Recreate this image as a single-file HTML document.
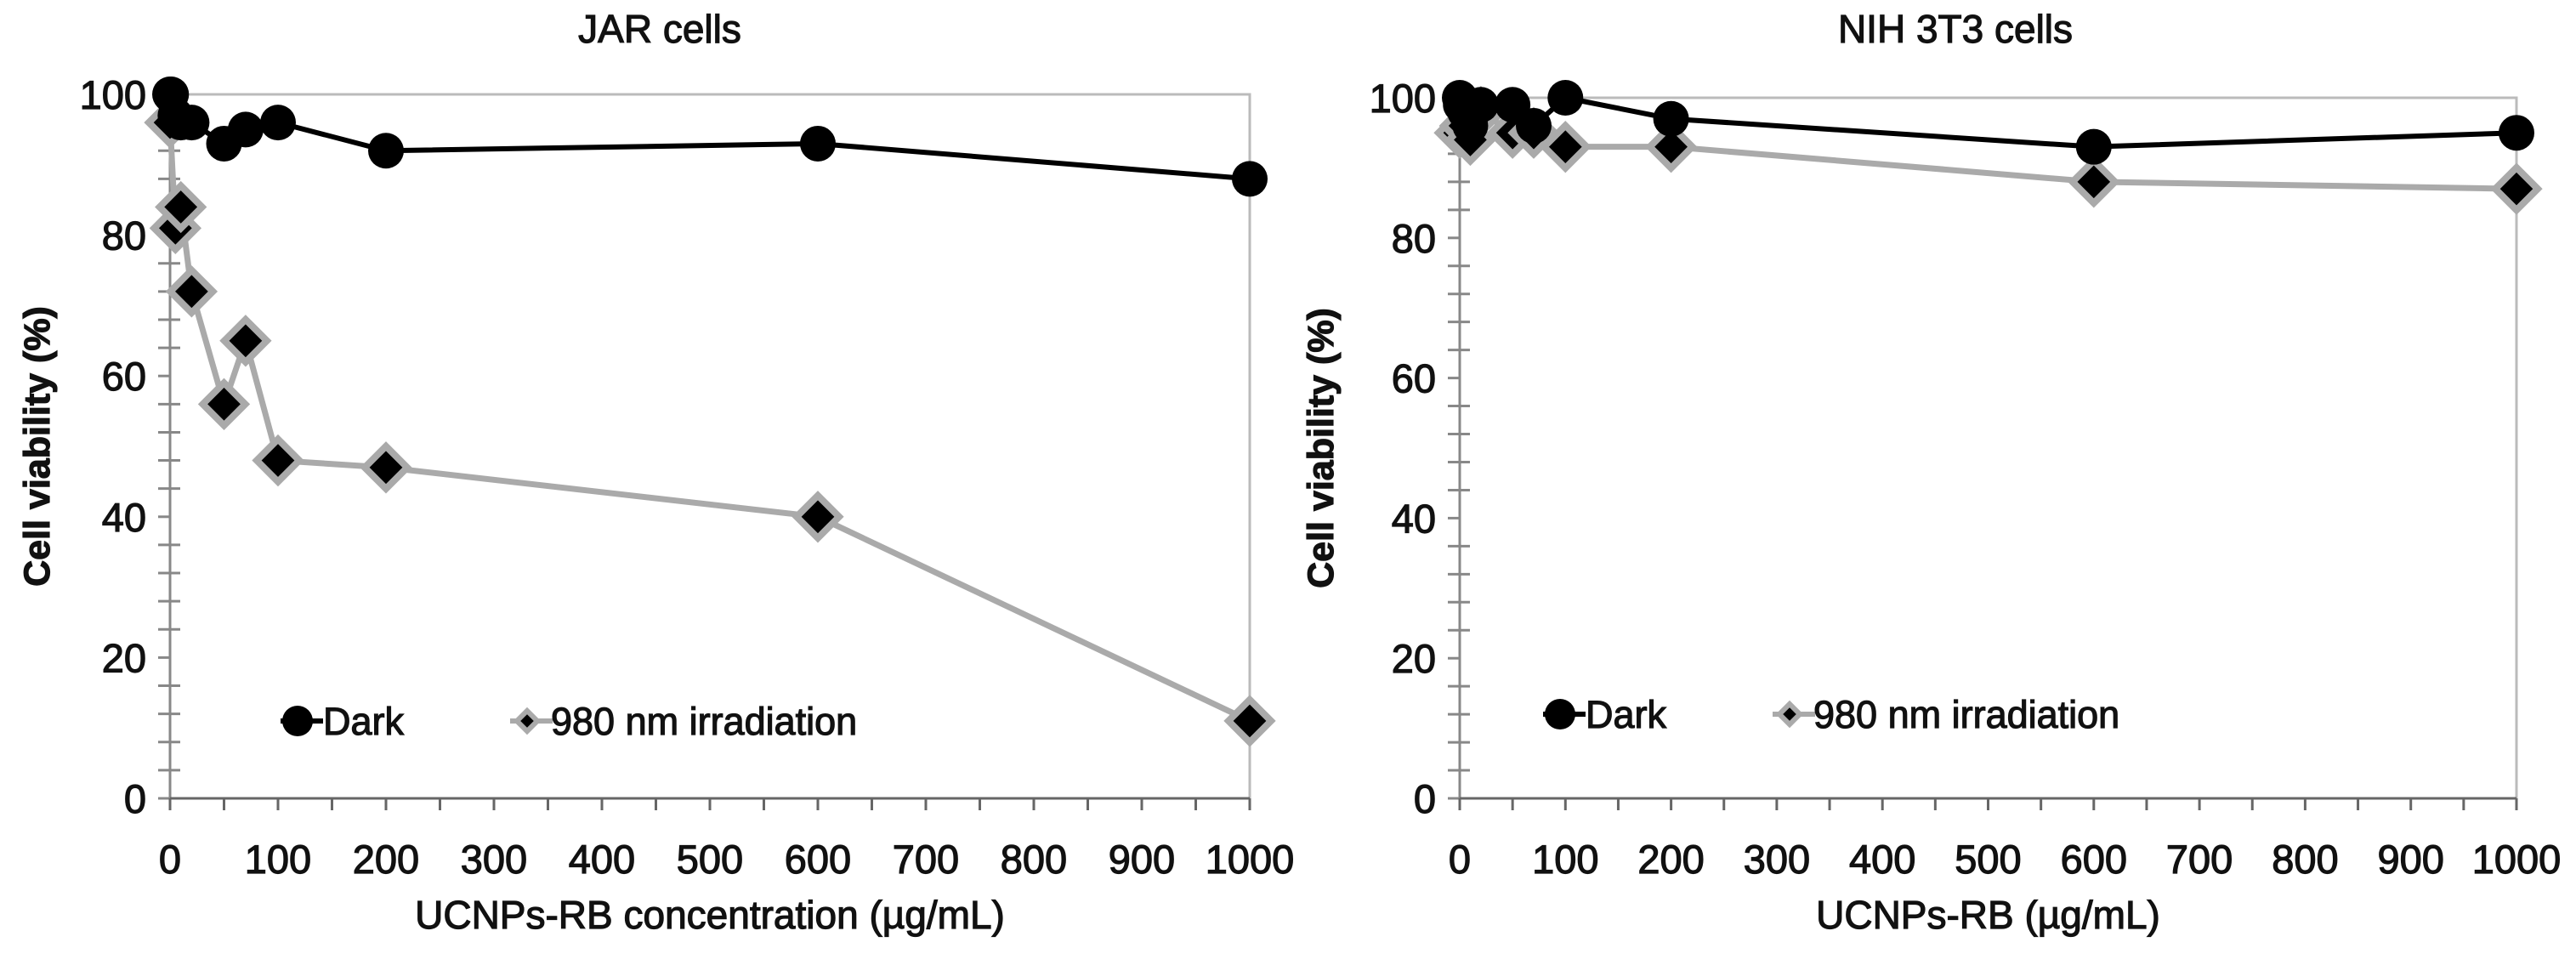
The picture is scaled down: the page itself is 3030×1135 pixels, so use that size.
<!DOCTYPE html>
<html><head><meta charset="utf-8"><style>
html,body{margin:0;padding:0;background:#fff}
svg{display:block}
text{font-family:"Liberation Sans",sans-serif;fill:#111;stroke:#111;stroke-width:1.2}
</style></head><body>
<svg id="fig" width="3030" height="1135" viewBox="0 0 3030 1135" xmlns="http://www.w3.org/2000/svg"></svg>
<script>
const xTicks=[0,100,200,300,400,500,600,700,800,900,1000];
const yTicks=[0,20,40,60,80,100];
const jarX=[0,1,5,10,20,50,70,100,200,600,1000];
const jarDark=[100,100,97,96,96,93,95,96,92,93,88];
const jarIrrX=[0,5,10,20,50,70,100,200,600,1000];
const jarIrr=[96,81,84,72,56,65,48,47,40,11];
const nihX=[0,1,5,10,20,50,70,100,200,600,1000];
const nihDark=[100,99,98,96,99,99,96,100,97,93,95];
const nihIrrX=[0,5,10,20,50,70,100,200,600,1000];
const nihIrr=[95,96,94,98,95,95,93,93,88,87];

const NS='http://www.w3.org/2000/svg';
const svg=document.getElementById('fig');
function mk(tag,attrs,parent){const e=document.createElementNS(NS,tag);for(const k in attrs)e.setAttribute(k,attrs[k]);(parent||svg).appendChild(e);return e;}

function panel(cfg){
  const g=mk('g',{});
  
  
  const sx=v=>cfg.x0+(cfg.x1-cfg.x0)*v/1000;
  const sy=v=>cfg.y0+(cfg.y1-cfg.y0)*v/100;
  const fr=mk('path',{d:`M${sx(0)},${sy(100)}H${sx(1000)}V${sy(0)}`,fill:'none',stroke:'#bbb','stroke-width':3},g);
  
  
  const ya=mk('line',{x1:sx(0),y1:sy(0),x2:sx(0),y2:sy(100),stroke:'#888','stroke-width':3},g);
  
  
  for(let v=0;v<=100;v+=4){mk('line',{x1:sx(0)-14,y1:sy(v),x2:sx(0)+(v%20===0?0:12),y2:sy(v),stroke:'#888','stroke-width':3},g);}
  yTicks.forEach(v=>{const t=mk('text',{x:sx(0)-28,y:sy(v)+17,'text-anchor':'end','font-size':47},g);t.textContent=v;
    
    });
  const xa=mk('line',{x1:sx(0),y1:sy(0),x2:sx(1000),y2:sy(0),stroke:'#666','stroke-width':3},g);
  
  
  for(let v=0;v<=1000;v+=50){mk('line',{x1:sx(v),y1:sy(0),x2:sx(v),y2:sy(0)+14,stroke:'#666','stroke-width':3},g);}
  xTicks.forEach(v=>{const t=mk('text',{x:sx(v),y:sy(0)+88,'text-anchor':'middle','font-size':47},g);t.textContent=v;
    
    });
  const ti=mk('text',{x:cfg.tx,y:50,'text-anchor':'middle','font-size':46},g);ti.textContent=cfg.title;
  
  
  const xl=mk('text',{x:(sx(0)+sx(1000))/2,y:1092,'text-anchor':'middle','font-size':46},g);xl.textContent=cfg.xlabel;
  
  
  const yl=mk('text',{x:0,y:0,'text-anchor':'middle','font-size':43,'font-weight':'bold',transform:`translate(${cfg.ylx},${(sy(0)+sy(100))/2}) rotate(-90)`},g);yl.textContent='Cell viability  (%)';
  
  
  const ip=cfg.irrX.map((x,i)=>sx(x)+','+sy(cfg.irr[i])).join(' ');
  const il=mk('polyline',{points:ip,fill:'none',stroke:'#aaa','stroke-width':7,'stroke-linejoin':'round'},g);
  
  
  const dp=cfg.darkX.map((x,i)=>sx(x)+','+sy(cfg.dark[i])).join(' ');
  const dl=mk('polyline',{points:dp,fill:'none',stroke:'#000','stroke-width':6,'stroke-linejoin':'round'},g);
  
  
  cfg.irrX.forEach((x,i)=>{const cx=sx(x),cy=sy(cfg.irr[i]);
    const d=mk('path',{d:`M${cx},${cy-25}L${cx+25},${cy}L${cx},${cy+25}L${cx-25},${cy}Z`,fill:'#000',stroke:'#aaa','stroke-width':8},g);
    
    });
  cfg.darkX.forEach((x,i)=>{const c=mk('circle',{cx:sx(x),cy:sy(cfg.dark[i]),r:21,fill:'#000'},g);
    
    });
  const lg=mk('g',{},g);
  
  
  const lx=cfg.lx,ly=cfg.ly;
  mk('line',{x1:lx-20,y1:ly,x2:lx+30,y2:ly,stroke:'#000','stroke-width':6},lg);
  mk('circle',{cx:lx,cy:ly,r:18,fill:'#000'},lg);
  const t1=mk('text',{x:lx+30,y:ly+16,'font-size':45},lg);t1.textContent='Dark';
  
  
  const l2=lx+270;
  mk('line',{x1:l2-20,y1:ly,x2:l2+30,y2:ly,stroke:'#aaa','stroke-width':6},lg);
  mk('path',{d:`M${l2},${ly-12}L${l2+12},${ly}L${l2},${ly+12}L${l2-12},${ly}Z`,fill:'#000',stroke:'#aaa','stroke-width':6},lg);
  const t2=mk('text',{x:l2+28,y:ly+16,'font-size':45},lg);t2.textContent='980 nm irradiation';
  
  
}
panel({name:'jar-cells-chart',x0:200,x1:1470,y0:939,y1:111,title:'JAR cells',tx:776,xlabel:'UCNPs-RB concentration (µg/mL)',ylx:58,darkX:jarX,dark:jarDark,irrX:jarIrrX,irr:jarIrr,lx:350,ly:848});
panel({name:'nih-3t3-cells-chart',x0:1717,x1:2960,y0:939,y1:115,title:'NIH 3T3 cells',tx:2300,xlabel:'UCNPs-RB (µg/mL)',ylx:1568,darkX:nihX,dark:nihDark,irrX:nihIrrX,irr:nihIrr,lx:1835,ly:840});
</script>
</body></html>
